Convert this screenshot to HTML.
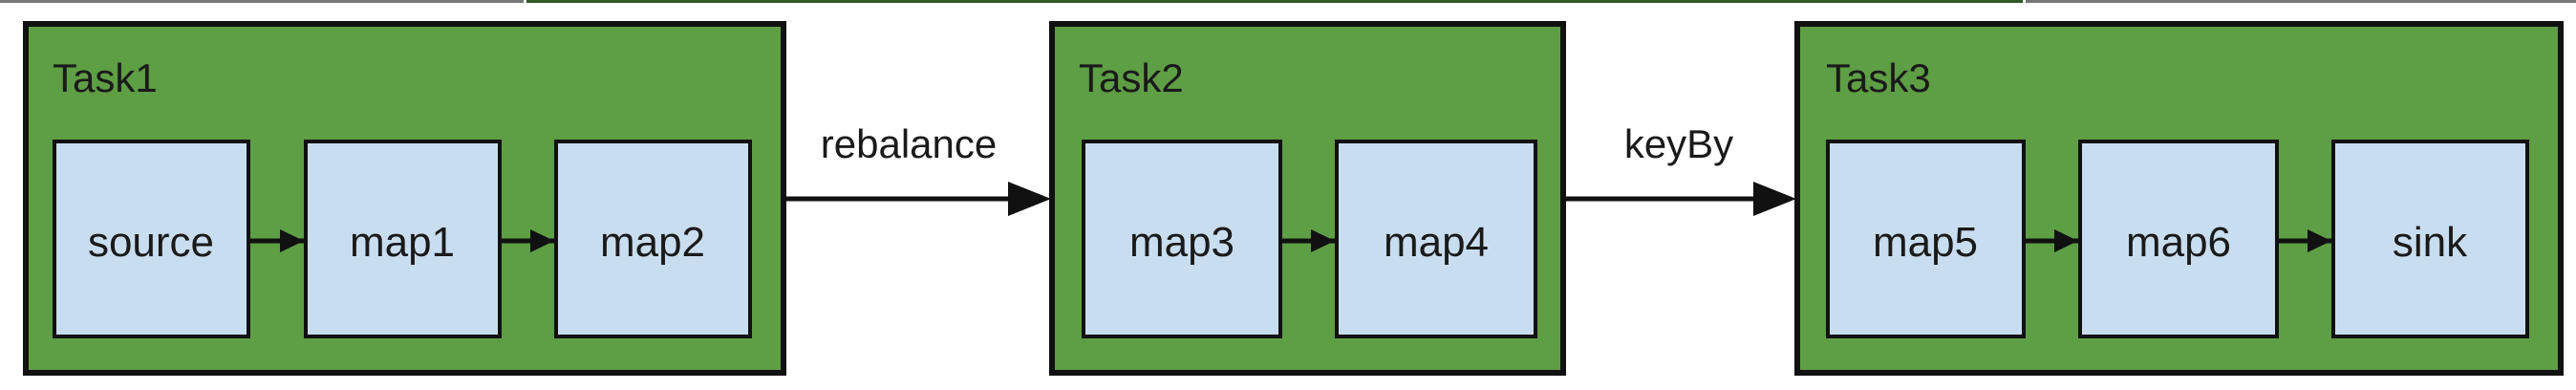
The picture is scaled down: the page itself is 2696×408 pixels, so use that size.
<!DOCTYPE html>
<html><head><style>
html,body{margin:0;padding:0;background:#fff;width:2696px;height:408px;overflow:hidden}
</style></head><body>
<svg width="2696" height="408" xmlns="http://www.w3.org/2000/svg" font-family="Liberation Sans, sans-serif">
<rect x="0" y="0" width="548" height="3" fill="#777"/>
<rect x="551" y="0" width="1566" height="3" fill="#2f5a23"/>
<rect x="2120" y="0" width="576" height="3" fill="#777"/>
<defs><marker id="a" markerWidth="10" markerHeight="10" refX="9" refY="5" orient="auto" markerUnits="userSpaceOnUse" viewBox="0 0 10 10"><path d="M0,0 L10,5 L0,10 z" fill="#111"/></marker></defs>
<g stroke="#111" stroke-width="6" fill="#5e9e44">
<rect x="27" y="25" width="793" height="365"/>
<rect x="1101" y="25" width="535" height="365"/>
<rect x="1881" y="25" width="799" height="365"/>
</g>
<g stroke="#111" stroke-width="4" fill="#c9ddf0">
<rect x="57" y="148" width="203" height="204"/>
<rect x="320" y="148" width="203" height="204"/>
<rect x="582" y="148" width="203" height="204"/>
<rect x="1134" y="148" width="206" height="204"/>
<rect x="1399" y="148" width="208" height="204"/>
<rect x="1913" y="148" width="205" height="204"/>
<rect x="2177" y="148" width="206" height="204"/>
<rect x="2442" y="148" width="203" height="204"/>
</g>
<g stroke="#111" stroke-width="5">
<line x1="262" y1="252" x2="318" y2="252"/>
<line x1="525" y1="252" x2="580" y2="252"/>
<line x1="1342" y1="252" x2="1397" y2="252"/>
<line x1="2120" y1="252" x2="2175" y2="252"/>
<line x1="2385" y1="252" x2="2440" y2="252"/>
<line x1="823" y1="208" x2="1060" y2="208"/>
<line x1="1639" y1="208" x2="1840" y2="208"/>
</g>
<g fill="#111">
<path d="M293,240 L318,252 L293,264z"/>
<path d="M555,240 L580,252 L555,264z"/>
<path d="M1372,240 L1397,252 L1372,264z"/>
<path d="M2150,240 L2175,252 L2150,264z"/>
<path d="M2415,240 L2440,252 L2415,264z"/>
<path d="M1055,190 L1100,208 L1055,226z"/>
<path d="M1835,190 L1880,208 L1835,226z"/>
</g>
<g fill="#1a1a1a" font-size="42">
<text x="55" y="96">Task1</text>
<text x="1129" y="96">Task2</text>
<text x="1911" y="96">Task3</text>
<text x="951" y="165" text-anchor="middle">rebalance</text>
<text x="1757" y="165" text-anchor="middle">keyBy</text>
</g>
<g fill="#1a1a1a" font-size="44" text-anchor="middle">
<text x="158" y="268">source</text>
<text x="421" y="268">map1</text>
<text x="683" y="268">map2</text>
<text x="1237" y="268">map3</text>
<text x="1503" y="268">map4</text>
<text x="2015" y="268">map5</text>
<text x="2280" y="268">map6</text>
<text x="2543" y="268">sink</text>
</g>
</svg>
</body></html>
